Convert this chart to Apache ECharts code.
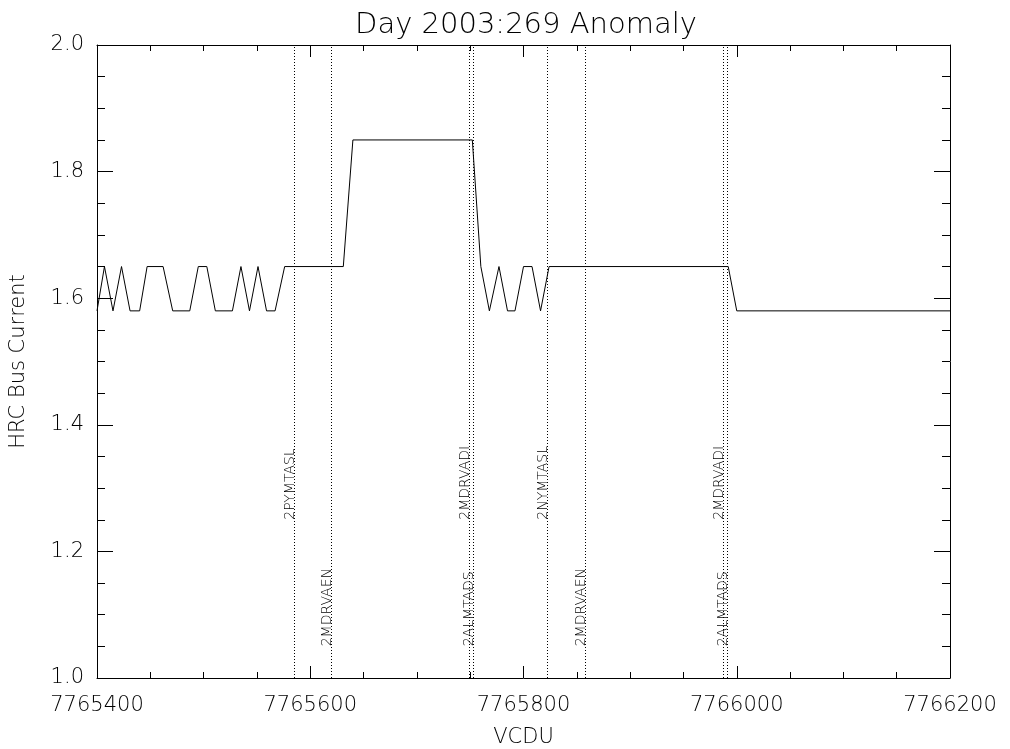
<!DOCTYPE html>
<html lang="en">
<head>
    <meta charset="UTF-8">
    <title>Day 2003:269 Anomaly</title>
    <script type="text/javascript" src="https://cdn.jsdelivr.net/npm/echarts@6/dist/echarts.min.js"></script>
    <style>
      *{margin:0;padding:0}
      html,body{width:100%;height:100%;background:#fff}
      #main{width:1010px;height:749px}
    </style>
</head>
<body>
<div id="main"></div>
<script>
    // HRC bus current samples
    var vcdu = [7765400, 7765407, 7765415, 7765423, 7765431, 7765440, 7765447, 7765462,
                7765471, 7765487, 7765495, 7765503, 7765511, 7765527, 7765535, 7765543,
                7765551, 7765559, 7765567, 7765576, 7765631, 7765640, 7765752, 7765760,
                7765768, 7765777, 7765785, 7765792, 7765800, 7765808, 7765816, 7765824,
                7765992, 7766000, 7766200];
    var current = [1.58, 1.65, 1.58, 1.65, 1.58, 1.58, 1.65, 1.65,
                   1.58, 1.58, 1.65, 1.65, 1.58, 1.58, 1.65, 1.58,
                   1.65, 1.58, 1.58, 1.65, 1.65, 1.85, 1.85, 1.65,
                   1.58, 1.65, 1.58, 1.58, 1.65, 1.65, 1.58, 1.65,
                   1.65, 1.58, 1.58];

    // command markers
    var cmdNames = ['2PYMTASL', '2MDRVAEN', '2MDRVADI', '2ALMTADS', '2NYMTASL', '2MDRVAEN', '2MDRVADI', '2ALMTADS'];
    var cmdVcdu = [7765584.5, 7765619.5, 7765749, 7765752.5, 7765822.5, 7765858, 7765987.5, 7765991];

    var font = 'DejaVu Sans';
    var chart = echarts.init(document.getElementById('main'));

    var lineData = vcdu.map(function (v, i) { return [v, current[i]]; });
    var cmdData = cmdVcdu.map(function (v, i) { return [v, i]; });

    function xAxisCfg(pos) {
        return {
            type: 'value', position: pos, min: 7765400, max: 7766200, interval: 200,
            axisLine: {show: true, lineStyle: {color: '#000', width: 1}},
            axisTick: {show: true, inside: true, length: 12, lineStyle: {color: '#000'}},
            minorTick: {show: true, splitNumber: 4, length: 6, lineStyle: {color: '#000'}},
            splitLine: {show: false},
            axisLabel: {show: pos === 'bottom', margin: 17, color: '#000', fontFamily: font, fontSize: 21, fontWeight: 200,
                formatter: function (v) { return String(v); }},
            name: pos === 'bottom' ? 'VCDU' : '',
            nameLocation: 'middle', nameGap: 49,
            nameTextStyle: {color: '#000', fontFamily: font, fontSize: 21, fontWeight: 200}
        };
    }
    function yAxisCfg(pos) {
        return {
            type: 'value', position: pos, min: 1.0, max: 2.0, interval: 0.2,
            axisLine: {show: true, lineStyle: {color: '#000', width: 1}},
            axisTick: {show: true, inside: true, length: 16, lineStyle: {color: '#000'}},
            minorTick: {show: true, splitNumber: 4, length: 8, lineStyle: {color: '#000'}},
            splitLine: {show: false},
            axisLabel: {show: pos === 'left', margin: 13, color: '#000', fontFamily: font, fontSize: 21, fontWeight: 200,
                formatter: function (v) { return v.toFixed(1); }},
            name: pos === 'left' ? 'HRC Bus Current' : '',
            nameLocation: 'middle', nameGap: 68,
            nameTextStyle: {color: '#000', fontFamily: font, fontSize: 21, fontWeight: 200}
        };
    }

    var option = {
        animation: false,
        backgroundColor: '#fff',
        title: {
            text: 'Day 2003:269 Anomaly',
            left: 521, top: 6, textAlign: 'center',
            textStyle: {color: '#000', fontFamily: font, fontSize: 29, fontWeight: 200}
        },
        grid: {left: 97, right: 60, top: 45, bottom: 71, containLabel: false, outerBoundsMode: 'none'},
        xAxis: [xAxisCfg('bottom'), xAxisCfg('top')],
        yAxis: [yAxisCfg('left'), yAxisCfg('right')],
        series: [
            {
                type: 'line',
                data: lineData,
                symbol: 'none',
                lineStyle: {color: '#000', width: 1}
            },
            {
                type: 'custom',
                data: cmdData,
                renderItem: function (params, api) {
                    var x = api.value(0);
                    var i = api.value(1);
                    var p0 = api.coord([x, 1.0]);
                    var p1 = api.coord([x, 2.0]);
                    // labels alternate between two heights
                    var pl = api.coord([x, i % 2 ? 1.05 : 1.25]);
                    var lx = Math.round(p0[0]) + 0.5;
                    return {
                        type: 'group',
                        children: [
                            {
                                type: 'line',
                                shape: {x1: lx, y1: p0[1], x2: lx, y2: p1[1]},
                                style: {stroke: '#000', lineWidth: 1, lineDash: [1, 2]}
                            },
                            {
                                type: 'text',
                                x: lx + 3, y: pl[1],
                                rotation: Math.PI / 2,
                                style: {
                                    text: cmdNames[i], fill: '#000',
                                    fontFamily: font, fontSize: 14, fontWeight: 200,
                                    align: 'left', verticalAlign: 'bottom'
                                }
                            }
                        ]
                    };
                }
            }
        ]
    };
    chart.setOption(option);
</script>
</body>
</html>
